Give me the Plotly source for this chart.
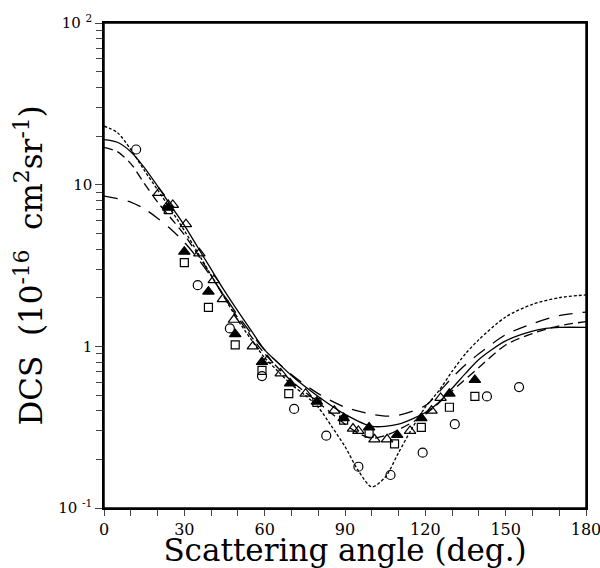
import plotly.graph_objects as go

# ---- theory curves (angle in deg, DCS in 1e-16 cm^2/sr) ----
solid_x = [0, 5, 10, 15, 20, 25, 30, 35, 40, 45, 50, 55, 60, 65, 70, 80, 90, 100, 110, 120, 125, 130, 135, 140, 150, 160, 165, 170, 180]
solid_y = [19, 18.3, 16, 12.8, 9.8, 7.4, 5.6, 4.1, 3.0, 2.2, 1.65, 1.25, 0.95, 0.79, 0.66, 0.49, 0.38, 0.32, 0.33, 0.39, 0.45, 0.55, 0.68, 0.83, 1.08, 1.24, 1.29, 1.31, 1.31]

dot_x = [0, 5, 10, 15, 20, 25, 30, 35, 40, 45, 50, 55, 60, 65, 70, 75, 80, 85, 90, 95, 100, 105, 110, 115, 120, 125, 130, 135, 140, 150, 160, 170, 180]
dot_y = [23, 21, 16.5, 12.3, 9.3, 7.0, 5.2, 3.8, 2.75, 2.0, 1.45, 1.1, 0.85, 0.7, 0.58, 0.5, 0.42, 0.32, 0.24, 0.17, 0.135, 0.155, 0.22, 0.31, 0.42, 0.53, 0.70, 0.9, 1.1, 1.52, 1.82, 2.0, 2.08]

long_x = [0, 5, 10, 15, 20, 25, 30, 35, 40, 45, 50, 55, 60, 70, 80, 90, 100, 105, 110, 120, 125, 130, 135, 140, 150, 160, 170, 180]
long_y = [8.5, 8.2, 7.8, 7.1, 6.2, 5.3, 4.4, 3.5, 2.7, 2.05, 1.55, 1.2, 0.95, 0.67, 0.51, 0.42, 0.38, 0.37, 0.375, 0.43, 0.52, 0.64, 0.77, 0.9, 1.18, 1.38, 1.55, 1.63]

med_x = [0, 5, 10, 15, 20, 25, 30, 35, 40, 45, 50, 55, 60, 70, 80, 90, 95, 100, 105, 110, 120, 130, 140, 150, 160, 170, 180]
med_y = [17, 16, 13.5, 10.2, 7.8, 6.2, 4.9, 3.7, 2.75, 2.0, 1.5, 1.15, 0.9, 0.61, 0.45, 0.33, 0.29, 0.27, 0.28, 0.305, 0.38, 0.53, 0.74, 1.02, 1.2, 1.34, 1.42]

# ---- experimental data ----
circ_x = [12, 35, 47, 59, 71, 83, 95, 107, 119, 131, 143, 155]
circ_y = [16.5, 2.39, 1.29, 0.655, 0.41, 0.28, 0.18, 0.16, 0.22, 0.33, 0.49, 0.56]

ftri_x = [24, 30, 39, 49, 59, 69.5, 79.5, 89.5, 99, 109.5, 118.5, 129, 138.5]
ftri_y = [7.2, 3.85, 2.18, 1.19, 0.80, 0.59, 0.455, 0.36, 0.315, 0.283, 0.36, 0.51, 0.62]

sq_x = [24, 30, 39, 49, 59, 69, 79.5, 89.5, 99, 108.5, 118.5, 129, 138.5]
sq_y = [7.0, 3.29, 1.74, 1.02, 0.71, 0.51, 0.45, 0.35, 0.29, 0.249, 0.315, 0.42, 0.49]

otri_x = [20.5, 24, 25.7, 30.6, 35.6, 41, 44.4, 48.5, 55.6, 61, 66, 75.3, 86, 93, 95, 101, 105.7, 114.3, 122.3, 125.7]
otri_y = [8.9, 7.5, 7.5, 5.7, 3.76, 2.57, 1.96, 1.46, 1.0, 0.82, 0.68, 0.51, 0.40, 0.31, 0.30, 0.266, 0.266, 0.30, 0.40, 0.48]

x_ticks = [0, 30, 60, 90, 120, 150, 180]
y_ticks = [0.1, 1, 10, 100]
y_ticktext = ["10 <sup>-1</sup>", "1", "10", "10 <sup>2</sup>"]

FONT = "DejaVu Serif"

fig = go.Figure()

def line(x, y, dash):
    fig.add_trace(go.Scatter(x=x, y=y, mode="lines", line=dict(color="black", width=1.3, dash=dash, shape="spline", smoothing=0.8), showlegend=False, hoverinfo="skip"))

line(solid_x, solid_y, "solid")
line(dot_x, dot_y, "3px,2px")
line(long_x, long_y, "14px,10px")
line(med_x, med_y, "9px,5px")

def pts(x, y, sym, size):
    fig.add_trace(go.Scatter(x=x, y=y, mode="markers", marker=dict(symbol=sym, size=size, color="black", line=dict(color="black", width=1.2)), showlegend=False))

pts(circ_x, circ_y, "circle-open", 9)
pts(sq_x, sq_y, "square-open", 8)
pts(otri_x, otri_y, "triangle-up-open", 10)
pts(ftri_x, ftri_y, "triangle-up", 10)

minor_y = [m * d for d in (0.1, 1, 10) for m in range(2, 10)]

fig.update_layout(
    width=600, height=568,
    margin=dict(l=104, r=14, t=23, b=60, autoexpand=False),
    paper_bgcolor="white", plot_bgcolor="white",
    font=dict(family=FONT, color="black"),
    xaxis=dict(
        range=[0, 180], tickvals=x_ticks, ticks="outside", ticklen=6, tickwidth=1.2,
        showline=True, linecolor="black", linewidth=1.5, mirror=True, showgrid=False, zeroline=False,
        tickfont=dict(size=16, family=FONT), ticklabeloverflow="allow", automargin=False,
        minor=dict(dtick=10, ticks="outside", ticklen=6, tickwidth=1.2, showgrid=False),
        title=dict(text="Scattering angle (deg.)", font=dict(size=31, family=FONT), standoff=4),
    ),
    yaxis=dict(
        type="log", range=[-1, 2], tickvals=y_ticks, ticktext=y_ticktext,
        ticks="outside", ticklen=7, tickwidth=1.2, automargin=False,
        showline=True, linecolor="black", linewidth=1.5, mirror=True, showgrid=False, zeroline=False,
        tickfont=dict(size=15, family=FONT),
        minor=dict(tickvals=minor_y, ticks="outside", ticklen=6, tickwidth=1.2, showgrid=False),
        title=dict(text="DCS  (10<sup>-16</sup>  cm<sup>2</sup>sr<sup>-1</sup>)", font=dict(size=31, family=FONT), standoff=6),
    ),
    shapes=[dict(type="rect", xref="paper", yref="paper", x0=0, x1=1, y0=0, y1=1,
                 line=dict(color="black", width=1.5), fillcolor="rgba(0,0,0,0)", layer="above")],
)

fig.write_html(
    "out.html",
    config={"displayModeBar": False},
    post_script="document.body.style.margin='0';document.body.style.overflow='hidden';",
)
